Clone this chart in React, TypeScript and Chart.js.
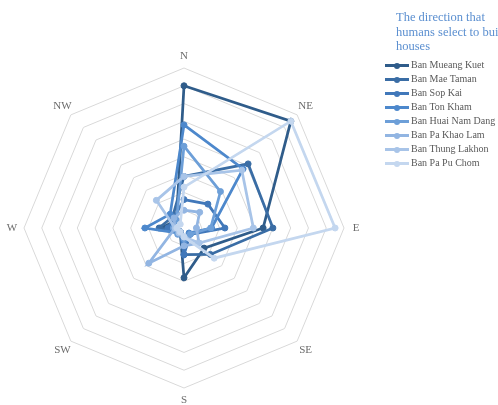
import React, { useEffect, useRef } from "react";
import { Chart, registerables } from "chart.js";

Chart.register(...registerables);

const directions = ["N", "NE", "E", "SE", "S", "SW", "W", "NW"];
const villages = [
  "Ban Mueang Kuet",
  "Ban Mae Taman",
  "Ban Sop Kai",
  "Ban Ton Kham",
  "Ban Huai Nam Dang",
  "Ban Pa Khao Lam",
  "Ban Thung Lakhon",
  "Ban Pa Pu Chom",
];
const muangKuet = [8.0, 8.5, 4.45, 1.6, 2.8, 0.3, 1.3, 0.6];
const maeTaman = [2.9, 5.1, 5.0, 2.1, 1.5, 0.3, 1.4, 0.9];
const sopKai = [1.6, 1.9, 2.3, 0.5, 1.5, 0.3, 0.9, 0.8];
const tonKham = [5.8, 4.7, 1.55, 0.4, 0.7, 0.4, 2.2, 1.1];
const huaiNamDang = [4.6, 2.9, 1.5, 0.5, 0.6, 0.5, 0.6, 0.6];
const paKhaoLam = [1.0, 1.25, 0.7, 1.2, 1.0, 2.8, 0.5, 0.8];
const thungLakhon = [2.9, 4.6, 3.9, 1.2, 0.5, 0.4, 0.5, 2.2];
const paPuChom = [2.3, 8.5, 8.5, 2.4, 0.5, 0.3, 0.4, 0.3];
const seriesValues = [muangKuet, maeTaman, sopKai, tonKham, huaiNamDang, paKhaoLam, thungLakhon, paPuChom];
const colors = ["#2F5C8A", "#3A6DA5", "#4178BA", "#4D88CC", "#6D9FD8", "#92B5E2", "#A8C4E8", "#C4D7EF"];
const titleLines = ["The direction that", "humans select to build", "houses"];

const labelPlugin = {
  id: "dirLabels",
  afterDraw(chart: any) {
    const scale = chart.scales.r;
    const ctx = chart.ctx;
    ctx.save();
    ctx.font = "11px 'Liberation Serif', serif";
    ctx.fillStyle = "#6b6b6b";
    ctx.textAlign = "center";
    ctx.textBaseline = "middle";
    directions.forEach((d, i) => {
      const p = scale.getPointPosition(i, scale.drawingArea + 12);
      ctx.fillText(d, p.x, p.y);
    });
    ctx.restore();
  },
};

export default function App() {
  const ref = useRef<HTMLCanvasElement>(null);
  useEffect(() => {
    document.body.style.margin = "0";
    const chart = new Chart(ref.current!, {
      type: "radar",
      data: {
        labels: directions,
        datasets: seriesValues.map((vals, i) => ({
          label: villages[i],
          data: vals,
          borderColor: colors[i],
          backgroundColor: colors[i],
          pointBackgroundColor: colors[i],
          pointBorderColor: colors[i],
          borderWidth: 2.75,
          pointRadius: 3,
          pointBorderWidth: 1,
          fill: false,
          tension: 0,
          order: 7 - i,
        })),
      },
      options: {
        responsive: false,
        animation: false,
        layout: { padding: { left: 24, right: 154, top: 68, bottom: 17 } },
        plugins: { legend: { display: false }, tooltip: { enabled: false } },
        scales: {
          r: {
            min: 0,
            max: 9,
            ticks: { display: false, stepSize: 1 },
            grid: { color: "#d9d9d9", lineWidth: 1 },
            angleLines: { display: false },
            pointLabels: { display: false },
          },
        },
      },
      plugins: [labelPlugin],
    });
    return () => chart.destroy();
  }, []);

  return (
    <div style={{ position: "fixed", left: 0, top: 0, width: 498, height: 405, overflow: "hidden", background: "#fff" }}>
      <canvas ref={ref} width={498} height={405} style={{ position: "absolute", left: 0, top: 0 }} />
      <div
        style={{
          position: "absolute",
          left: 396,
          top: 10,
          fontFamily: "'Liberation Serif', serif",
          fontSize: 12.5,
          lineHeight: "14.5px",
          color: "#5B8FD0",
          whiteSpace: "nowrap",
        }}
      >
        {titleLines.map((t) => (
          <div key={t}>{t}</div>
        ))}
      </div>
      {villages.map((v, i) => (
        <div key={v} style={{ position: "absolute", left: 385, top: 58 + i * 14.05, height: 14, width: 120 }}>
          <div style={{ position: "absolute", left: 0, top: 6, width: 24, height: 3, background: colors[i] }} />
          <div
            style={{
              position: "absolute",
              left: 9,
              top: 4.5,
              width: 6,
              height: 6,
              borderRadius: 3,
              background: colors[i],
            }}
          />
          <div
            style={{
              position: "absolute",
              left: 26,
              top: 0,
              fontFamily: "'Liberation Serif', serif",
              fontSize: 10,
              lineHeight: "14px",
              color: "#595959",
              whiteSpace: "nowrap",
            }}
          >
            {v}
          </div>
        </div>
      ))}
    </div>
  );
}
